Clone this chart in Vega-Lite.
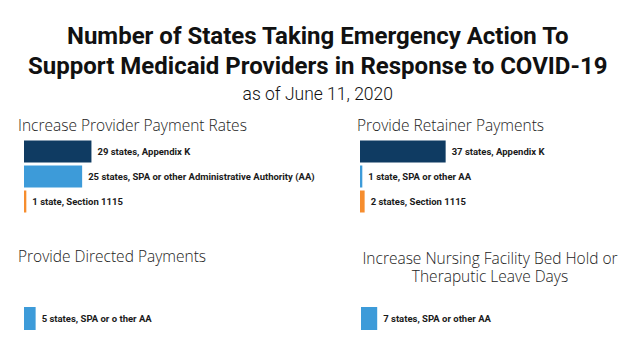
{
  "$schema": "https://vega.github.io/schema/vega-lite/v6.json",
  "padding": {"left": 18, "top": 25, "right": 30, "bottom": 0},
  "autosize": "pad",
  "bounds": "flush",
  "background": "white",
  "title": {
    "text": ["Number of States Taking Emergency Action To", "Support Medicaid Providers in Response to COVID-19"],
    "subtitle": "as of June 11, 2020",
    "anchor": "middle",
    "font": "Roboto",
    "fontSize": 24,
    "fontWeight": "bold",
    "color": "#111111",
    "lineHeight": 30,
    "subtitleFont": "Roboto",
    "subtitleFontSize": 17.5,
    "subtitleFontWeight": 300,
    "subtitleColor": "#111111",
    "subtitlePadding": 7,
    "offset": 15
  },
  "config": {
    "view": {"stroke": null},
    "title": {"font": "Open Sans", "fontSize": 15.5, "fontWeight": 300, "color": "#222222", "anchor": "start", "baseline": "alphabetic"},
    "text": {"font": "Roboto", "fontSize": 9.5, "fontWeight": "bold", "color": "#1a1a1a", "align": "left", "baseline": "middle", "dx": 6}
  },
  "datasets": {
    "p1": [
      {"authority": "Appendix K", "states": 29, "label": "29 states, Appendix K"},
      {"authority": "SPA or other AA", "states": 25, "label": "25 states, SPA or other Administrative Authority (AA)"},
      {"authority": "Section 1115", "states": 1, "label": "1 state, Section 1115"}
    ],
    "p2": [
      {"authority": "Appendix K", "states": 37, "label": "37 states, Appendix K"},
      {"authority": "SPA or other AA", "states": 1, "label": "1 state, SPA or other AA"},
      {"authority": "Section 1115", "states": 2, "label": "2 states, Section 1115"}
    ],
    "p3": [
      {"authority": "SPA or other AA", "states": 5, "label": "5 states, SPA or o ther AA"}
    ],
    "p4": [
      {"authority": "SPA or other AA", "states": 7, "label": "7 states, SPA or other AA"}
    ]
  },
  "vconcat": [
    {
      "spacing": 33,
      "hconcat": [
        {
          "title": {"text": "Increase Provider Payment Rates", "offset": 5, "dx": -6},
          "width": 300,
          "height": 75,
          "data": {"name": "p1"},
          "encoding": {
            "x": {"field": "states", "type": "quantitative", "axis": null, "scale": {"domain": [0, 129]}},
            "y": {"field": "authority", "type": "nominal", "axis": null, "sort": ["Appendix K", "SPA or other AA", "Section 1115"], "scale": {"paddingInner": 0.12, "paddingOuter": 0.06}}
          },
          "layer": [
            {"mark": "bar", "encoding": {"color": {"field": "authority", "type": "nominal", "legend": null, "scale": {"domain": ["Appendix K", "SPA or other AA", "Section 1115"], "range": ["#0f3b62", "#3d9bd9", "#f68d2e"]}}}},
            {"mark": "text", "encoding": {"text": {"field": "label"}}}
          ]
        },
        {
          "title": {"text": "Provide Retainer Payments", "offset": 5, "dx": -3},
          "width": 250,
          "height": 75,
          "data": {"name": "p2"},
          "encoding": {
            "x": {"field": "states", "type": "quantitative", "axis": null, "scale": {"domain": [0, 108]}},
            "y": {"field": "authority", "type": "nominal", "axis": null, "sort": ["Appendix K", "SPA or other AA", "Section 1115"], "scale": {"paddingInner": 0.12, "paddingOuter": 0.06}}
          },
          "layer": [
            {"mark": "bar", "encoding": {"color": {"field": "authority", "type": "nominal", "legend": null, "scale": {"domain": ["Appendix K", "SPA or other AA", "Section 1115"], "range": ["#0f3b62", "#3d9bd9", "#f68d2e"]}}}},
            {"mark": "text", "encoding": {"text": {"field": "label"}}}
          ]
        }
      ]
    },
    {
      "spacing": 37,
      "hconcat": [
        {
          "title": {"text": "Provide Directed Payments", "offset": 42, "dx": -6},
          "width": 300,
          "height": 23,
          "data": {"name": "p3"},
          "encoding": {
            "x": {"field": "states", "type": "quantitative", "axis": null, "scale": {"domain": [0, 129]}},
            "y": {"field": "authority", "type": "nominal", "axis": null, "scale": {"paddingInner": 0, "paddingOuter": 0}}
          },
          "layer": [
            {"mark": "bar", "encoding": {"color": {"field": "authority", "type": "nominal", "legend": null, "scale": {"domain": ["Appendix K", "SPA or other AA", "Section 1115"], "range": ["#0f3b62", "#3d9bd9", "#f68d2e"]}}}},
            {"mark": "text", "encoding": {"text": {"field": "label"}}}
          ]
        },
        {
          "title": {"text": ["Increase Nursing Facility Bed Hold or", "Theraputic Leave Days"], "anchor": "middle", "offset": 7, "dx": 4, "baseline": "bottom", "lineHeight": 18},
          "width": 250,
          "height": 23,
          "data": {"name": "p4"},
          "encoding": {
            "x": {"field": "states", "type": "quantitative", "axis": null, "scale": {"domain": [0, 108]}},
            "y": {"field": "authority", "type": "nominal", "axis": null, "scale": {"paddingInner": 0, "paddingOuter": 0}}
          },
          "layer": [
            {"mark": "bar", "encoding": {"color": {"field": "authority", "type": "nominal", "legend": null, "scale": {"domain": ["Appendix K", "SPA or other AA", "Section 1115"], "range": ["#0f3b62", "#3d9bd9", "#f68d2e"]}}}},
            {"mark": "text", "encoding": {"text": {"field": "label"}, "dx": {"value": 12}}}
          ]
        }
      ]
    }
  ],
  "spacing": 168
}
